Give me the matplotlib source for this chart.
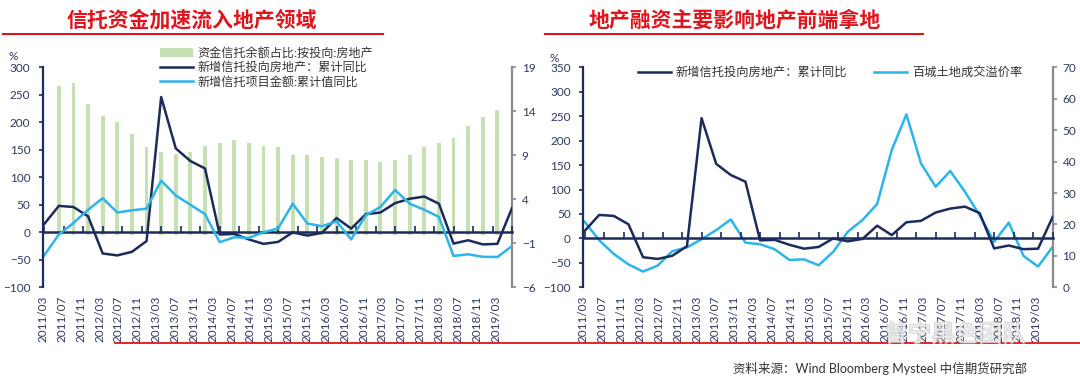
import numpy as np
import matplotlib
matplotlib.use('Agg')
import matplotlib.pyplot as plt
from matplotlib.lines import Line2D
import matplotlib.patheffects as pe

plt.rcParams['font.family'] = ['Lato', 'Noto Sans CJK SC', 'DejaVu Sans']

# ---------------- data ----------------
quarters = [f"{y}/{m:02d}" for y in range(2011, 2020) for m in (3, 6, 9, 12)][:33]
tick_labels = [f"{2011 + (2 + 4 * k) // 12}/{(2 + 4 * k) % 12 + 1:02d}" for k in range(25)]

# 资金信托余额占比:按投向:房地产 (%)
trust_share = [np.nan, 16.9, 17.25, 14.8, 13.5, 12.8, 11.4, 9.9, 9.4, 9.1, 9.4, 10.1,
               10.4, 10.7, 10.4, 10.1, 10.0, 9.0, 9.0, 8.8, 8.75, 8.5, 8.5, 8.2,
               8.5, 9.0, 10.0, 10.4, 11.0, 12.3, 13.4, 14.2, np.nan]
# 新增信托投向房地产：累计同比 (%)
new_trust_re = [15, 48, 46, 29, -38.5, -42, -35.5, -16, 246, 152.5, 129.6, 116,
                -4, -3, -13, -21, -17.5, 0, -6, -1, 26, 6.7, 33, 36,
                53, 61, 65, 52, -20.5, -14.5, -22, -21, 44]
# 新增信托项目金额:累计值同比 (%)
new_trust_amt = [-42, -4, 17, 41, 62, 36, 40, 43, 94, 67, 50, 33,
                 -18, -9, -10, 0, 7, 52, 16, 11, 20, -13, 31, 46,
                 77, 52, 41, 28, -43, -40, -44.5, -45, -25]
# 百城土地成交溢价率 (%)
land_premium = [20.9, 15, 10.6, 7.3, 5, 6.9, 11.5, 12.7, 15.3, 18.2, 21.6, 14.2,
                13.7, 12.1, 8.7, 8.9, 7, 11.3, 17.7, 21.4, 26.5, 43.7, 55, 39.4,
                32, 37, 30.4, 23, 14.5, 20.6, 10, 6.6, 12.9]

label_share = '资金信托余额占比:按投向:房地产'
label_re = '新增信托投向房地产：累计同比'
label_amt = '新增信托项目金额:累计值同比'
label_prem = '百城土地成交溢价率'
title_left = '信托资金加速流入地产领域'
title_right = '地产融资主要影响地产前端拿地'
source = '资料来源：Wind Bloomberg Mysteel 中信期货研究部'

# ---------------- style ----------------
NAVY = '#1c2b5a'
LIGHT = '#2db4ea'
GREEN = '#c6e0b4'
GRAY = '#8a8a8a'
RED = '#e0141c'
TXT = '#2e3a5c'

W, H = 1080, 385
fig = plt.figure(figsize=(W / 100, H / 100), dpi=100)

x = np.array([(int(q[:4]) - 2011) * 12 + int(q[5:]) - 3 for q in quarters])
tick_months = np.arange(0, 97, 4)
label_pos = -0.25 + np.arange(25) * 3.87


def fx(px):
    return px / W


def fy(py):
    return 1 - py / H


def setup(ax, ax2, ylim, yticks, ylim2, yticks2):
    ax.set_xlim(0, 96)
    ax.set_ylim(*ylim)
    ax.set_yticks(yticks)
    ax2.set_ylim(*ylim2)
    ax2.set_yticks(yticks2)
    for s in ('top', 'bottom', 'right'):
        ax.spines[s].set_visible(False)
    for s in ('top', 'bottom', 'left'):
        ax2.spines[s].set_visible(False)
    ax.spines['left'].set_color(NAVY)
    ax.spines['left'].set_linewidth(1.6)
    ax2.spines['right'].set_color(GRAY)
    ax2.spines['right'].set_linewidth(1.6)
    ax.tick_params(axis='y', direction='out', length=3, width=1.2, color=NAVY,
                   labelsize=8.5, labelcolor=TXT, pad=6)
    ax2.tick_params(axis='y', direction='out', length=3, width=1.2, color=GRAY,
                    labelsize=8.5, labelcolor=TXT, pad=4)
    ax.set_xticks(label_pos, tick_labels, rotation=90, fontsize=8.5, color=TXT)
    ax.tick_params(axis='x', length=0, pad=6)
    ax.set_zorder(ax2.get_zorder() + 1)
    ax.patch.set_visible(False)
    frac = (0 - ylim[0]) / (ylim[1] - ylim[0])
    sec = ax.secondary_xaxis(frac)
    sec.set_xticks(tick_months)
    sec.tick_params(axis='x', direction='in', length=4, width=1.2, color=NAVY,
                    labelbottom=False, labeltop=False)
    for s in ('top', 'bottom'):
        sec.spines[s].set_color(NAVY)
        sec.spines[s].set_linewidth(1.8)


# ---------------- left panel ----------------
axL = fig.add_axes([fx(43), fy(287.3), fx(469), 220 / H])
axL2 = axL.twinx()
bars = axL2.bar(x, trust_share, width=0.8, color=GREEN, label=label_share)
l1, = axL.plot(x, new_trust_re, color=NAVY, lw=1.8, label=label_re)
l2, = axL.plot(x, new_trust_amt, color=LIGHT, lw=1.8, label=label_amt)
setup(axL, axL2, (-100, 300), np.arange(-100, 301, 50), (-6, 19), [-6, -1, 4, 9, 14, 19])

# ---------------- right panel ----------------
axR = fig.add_axes([fx(583.3), fy(287.3), fx(469.4), 220 / H])
axR2 = axR.twinx()
l3, = axR.plot(x, new_trust_re, color=NAVY, lw=1.8, label=label_re)
l4, = axR2.plot(x, land_premium, color=LIGHT, lw=1.8, label=label_prem)
setup(axR, axR2, (-100, 350), np.arange(-100, 351, 50), (0, 70), np.arange(0, 71, 10))

# ---------------- legends ----------------
fig.legend(handles=[bars, l1, l2], labels=[label_share, label_re, label_amt],
           loc='upper left', bbox_to_anchor=(fx(160), fy(47)), frameon=False,
           fontsize=8.7, handlelength=2.7, handletextpad=0.4, labelspacing=0.2,
           borderpad=0, borderaxespad=0, labelcolor='#333333')
fig.legend(handles=[l3, l4], labels=[label_re, label_prem], ncol=2,
           loc='upper left', bbox_to_anchor=(fx(638), fy(66)), frameon=False,
           fontsize=8.8, handlelength=2.7, handletextpad=0.4, columnspacing=2.2,
           borderpad=0, borderaxespad=0, labelcolor='#333333')

# ---------------- texts ----------------
fig.text(fx(13), fy(57), '%', fontsize=8.5, color=TXT, ha='center', va='center')
fig.text(fx(554), fy(58), '%', fontsize=8.5, color=TXT, ha='center', va='center')

fig.text(fx(192), fy(20), title_left, ha='center', va='center', fontsize=15,
         fontweight='bold', color=RED, family=['Noto Sans CJK SC'])
fig.text(fx(735), fy(20), title_right, ha='center', va='center', fontsize=15,
         fontweight='bold', color=RED, family=['Noto Sans CJK SC'])
fig.add_artist(Line2D([fx(3), fx(383)], [fy(34), fy(34)], color=RED, lw=1.5))
fig.add_artist(Line2D([fx(545), fx(923)], [fy(34), fy(34)], color=RED, lw=1.5))
fig.add_artist(Line2D([fx(115), fx(1080)], [fy(343), fy(343)], color=RED, lw=1.3))

fig.text(fx(955), fy(335), '曾宁黑色团队', ha='center', va='center', fontsize=17,
         color='white', family=['Noto Sans CJK SC'], alpha=0.6,
         path_effects=[pe.withStroke(linewidth=1.2, foreground='#b8b8b8')])
fig.text(fx(880), fy(368), source, ha='center', va='center', fontsize=9,
         color='#333333')

fig.savefig('out.png', dpi=100)
